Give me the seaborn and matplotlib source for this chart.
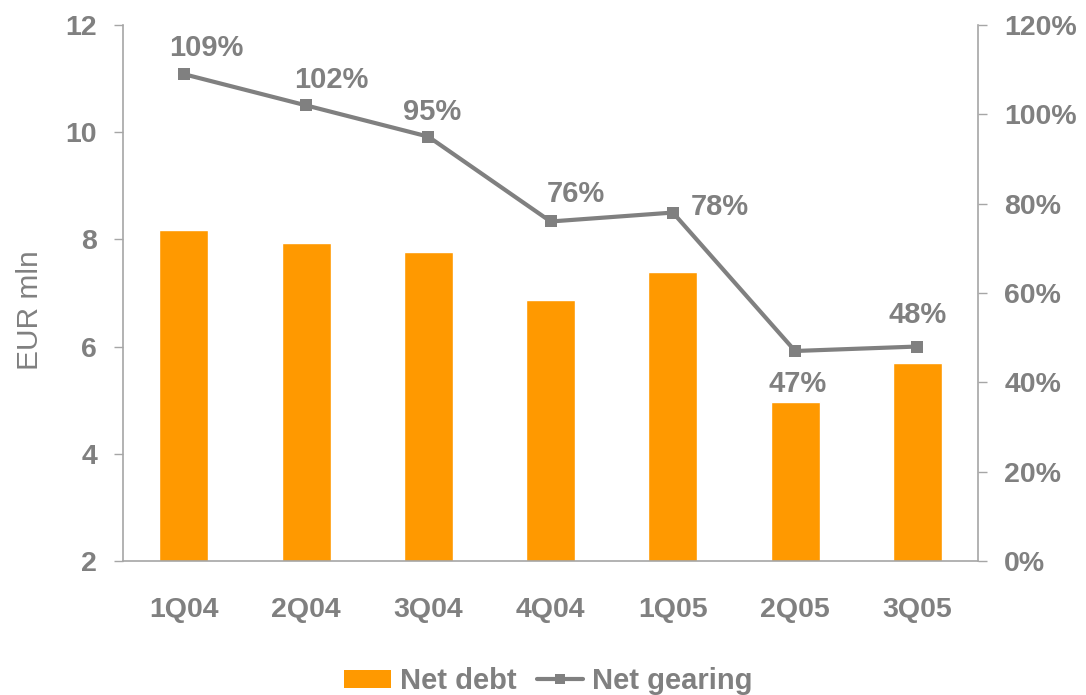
import numpy as np
import pandas as pd
import matplotlib
matplotlib.use("Agg")
import matplotlib.pyplot as plt
from matplotlib.lines import Line2D
from matplotlib.patches import Patch
import seaborn as sns

quarters = ["1Q04", "2Q04", "3Q04", "4Q04", "1Q05", "2Q05", "3Q05"]
net_debt = [8.18, 7.93, 7.76, 6.87, 7.39, 4.97, 5.69]
net_gearing = [109, 102, 95, 76, 78, 47, 48]
left_ticks = [2, 4, 6, 8, 10, 12]
right_ticks = [0, 20, 40, 60, 80, 100, 120]

ORANGE = "#FF9900"
GREY = "#808080"
AXIS_GREY = "#A6A6A6"

sns.set_theme(style="white")
plt.rcParams["font.family"] = ["Liberation Sans", "DejaVu Sans"]

fig = plt.figure(figsize=(10.86, 6.95), dpi=100)
ax = fig.add_axes([0.113, 0.193, 0.788, 0.771])

df = pd.DataFrame({"quarter": quarters, "debt": net_debt})
sns.barplot(data=df, x="quarter", y="debt", color=ORANGE, saturation=1,
            width=0.4, ax=ax, zorder=2)
ax.set_ylim(2, 12)
ax.set_xlim(-0.5, len(quarters) - 0.5)
ax.set_yticks(left_ticks)
ax.set_yticklabels([str(t) for t in left_ticks])
ax.set_xlabel("")
ax.set_ylabel("EUR mln", fontsize=21.5, color=GREY, va="center")
ax.yaxis.set_label_coords(-0.108, 0.468)

ax2 = ax.twinx()
sns.lineplot(x=np.arange(len(quarters)), y=net_gearing, ax=ax2, color=GREY,
             linewidth=3, marker="s", markersize=8, markeredgewidth=0,
             zorder=3)
ax2.set_ylim(0, 120)
ax2.set_yticks(right_ticks)
ax2.set_yticklabels([f"{t}%" for t in right_ticks])
ax2.set_ylabel("")

# label offsets (points) for each gearing value
offsets = [(16, 19), (18, 18), (3, 18), (18, 20), (34, 4), (2, -24), (0, 23)]
for i, (v, off) in enumerate(zip(net_gearing, offsets)):
    ax2.annotate(f"{v}%", (i, v), xytext=off, textcoords="offset points",
                 ha="center", va="center", fontsize=21, fontweight="bold",
                 color=GREY)

for a in (ax, ax2):
    a.spines["top"].set_visible(False)
    for s in ("left", "right", "bottom"):
        a.spines[s].set_color(AXIS_GREY)
        a.spines[s].set_linewidth(1.2)
    a.tick_params(axis="y", labelcolor=GREY, color=AXIS_GREY, labelsize=20.5,
                  length=6.5, width=1, direction="out", pad=12)
    for lbl in a.get_yticklabels():
        lbl.set_fontweight("bold")
ax.tick_params(axis="x", labelcolor=GREY, labelsize=20.5, length=0, pad=26)
for lbl in ax.get_xticklabels():
    lbl.set_fontweight("bold")
ax.spines["left"].set_visible(True)
ax2.spines["left"].set_visible(False)
ax.spines["right"].set_visible(False)
ax2.spines["bottom"].set_visible(False)
ax.grid(False)
ax2.grid(False)

handles = [Patch(facecolor=ORANGE, edgecolor="none", label="Net debt"),
           Line2D([0], [0], color=GREY, linewidth=3, marker="s",
                  markersize=7, markeredgewidth=0, label="Net gearing")]
leg = fig.legend(handles=handles, loc="lower center", ncol=2,
                 bbox_to_anchor=(0.505, -0.038), frameon=False,
                 prop={"size": 21, "weight": "bold"}, handlelength=1.6,
                 handleheight=0.6, handletextpad=0.3, columnspacing=0.7)
for t in leg.get_texts():
    t.set_color(GREY)

fig.savefig("out.png", dpi=100)
